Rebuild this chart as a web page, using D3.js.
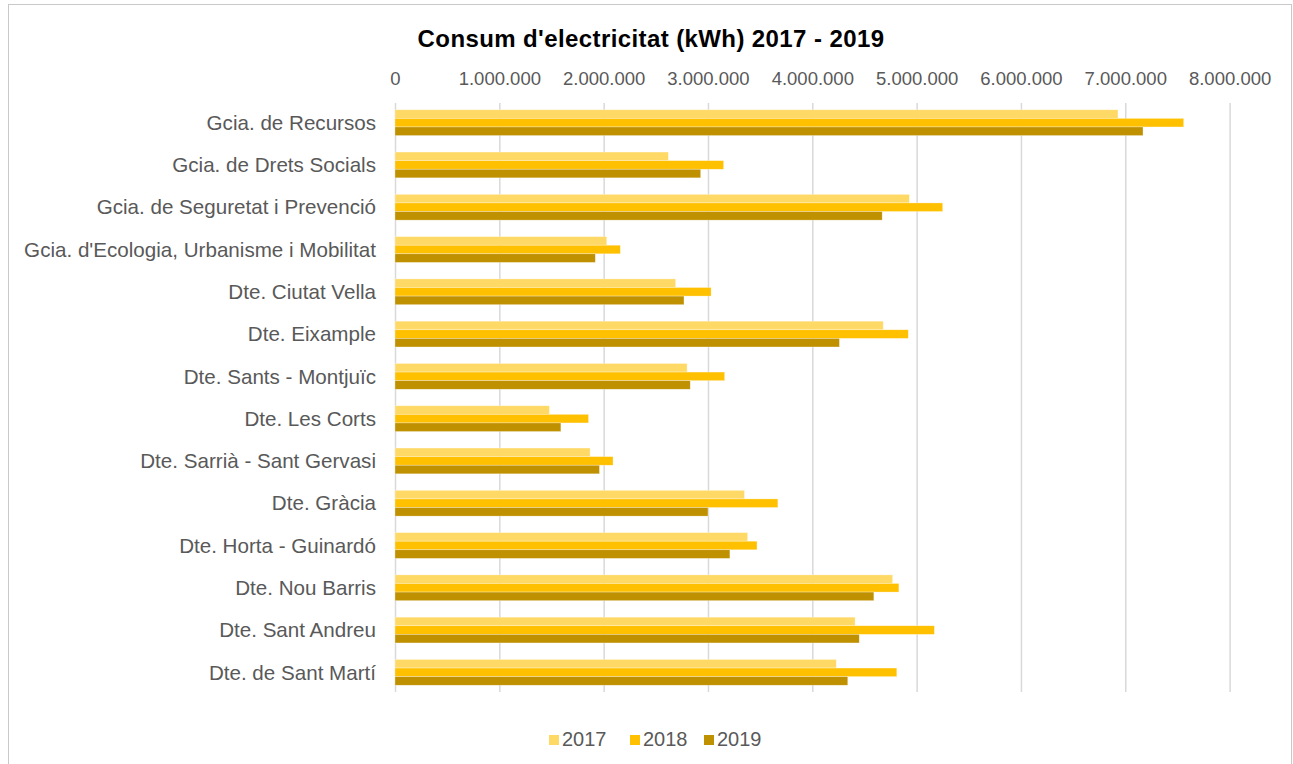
<!DOCTYPE html>
<html>
<head>
<meta charset="utf-8">
<script src="https://cdn.jsdelivr.net/npm/d3@7"></script>
<style>
  body { margin: 0; background: #ffffff; }
  svg { display: block; font-family: "Liberation Sans", Arial, sans-serif; }
</style>
</head>
<body>
<svg id="chart" width="1293" height="764"></svg>
<script>
const categories = [
  "Gcia. de Recursos",
  "Gcia. de Drets Socials",
  "Gcia. de Seguretat i Prevenció",
  "Gcia. d'Ecologia, Urbanisme i Mobilitat",
  "Dte. Ciutat Vella",
  "Dte. Eixample",
  "Dte. Sants - Montjuïc",
  "Dte. Les Corts",
  "Dte. Sarrià - Sant Gervasi",
  "Dte. Gràcia",
  "Dte. Horta - Guinardó",
  "Dte. Nou Barris",
  "Dte. Sant Andreu",
  "Dte. de Sant Martí",
];

const years = ["2017", "2018", "2019"];

const values2017 = [
  6930000, 2620000, 4930000, 2030000, 2690000, 4680000, 2800000,
  1480000, 1870000, 3350000, 3380000, 4770000, 4410000, 4230000,
];
const values2018 = [
  7560000, 3150000, 5250000, 2160000, 3030000, 4920000, 3160000,
  1855000, 2090000, 3670000, 3470000, 4830000, 5170000, 4810000,
];
const values2019 = [
  7170000, 2930000, 4670000, 1920000, 2770000, 4260000, 2830000,
  1590000, 1960000, 3000000, 3210000, 4590000, 4450000, 4340000,
];

const tickValues = [0, 1000000, 2000000, 3000000, 4000000, 5000000, 6000000, 7000000, 8000000];

const yearColors = ["#FFD966", "#FFC000", "#BF9000"];

const svg = d3.select("#chart");

//Frame around the chart
svg
  .append("rect")
  .attr("x", 8.5)
  .attr("y", 4.5)
  .attr("width", 1283)
  .attr("height", 800)
  .attr("fill", "none")
  .attr("stroke", "#c9c9c9")
  .attr("stroke-width", 1);

//Title
svg
  .append("text")
  .attr("x", 651)
  .attr("y", 47)
  .attr("text-anchor", "middle")
  .attr("font-size", 24)
  .attr("font-weight", "bold")
  .attr("letter-spacing", 0.4)
  .attr("fill", "#000")
  .text("Consum d'electricitat (kWh) 2017 - 2019");

//Plot area
const plot = { left: 395, right: 1229.6, top: 103, bottom: 692 };

const xScale = d3.scaleLinear().domain([0, 8000000]).range([plot.left, plot.right]);
const yScale = d3
  .scaleBand()
  .domain(categories)
  .range([plot.top, plot.bottom])
  .paddingInner(0.39)
  .paddingOuter(0.16);
const subScale = d3.scaleBand().domain(years).range([0, yScale.bandwidth()]);
const colorScale = d3.scaleOrdinal().domain(years).range(yearColors);

const locale = d3.formatLocale({ decimal: ",", thousands: ".", grouping: [3], currency: ["", "€"] });
const formatNumber = locale.format(",");

//Gridlines
const grid = svg
  .append("g")
  .attr("class", "grid")
  .attr("transform", `translate(0, ${plot.bottom})`)
  .call(
    d3.axisBottom(xScale)
      .tickValues(tickValues)
      .tickSize(-(plot.bottom - plot.top))
      .tickFormat("")
  );
grid.select(".domain").remove();
grid.selectAll(".tick line").attr("stroke", "#d9d9d9").attr("stroke-width", 1.5);

//Top axis labels
const xAxis = svg
  .append("g")
  .attr("class", "x-axis")
  .attr("transform", `translate(0, 85)`)
  .call(d3.axisTop(xScale).tickValues(tickValues).tickSize(0).tickPadding(0).tickFormat(formatNumber));
xAxis.select(".domain").remove();
xAxis
  .selectAll(".tick text")
  .attr("font-size", 18.5)
  .attr("font-family", "Liberation Sans, Arial, sans-serif")
  .attr("fill", "#595959")
  .attr("dy", 0);

//Category labels
const yAxis = svg
  .append("g")
  .attr("class", "y-axis")
  .attr("transform", `translate(${plot.left - 19}, 0)`)
  .call(d3.axisLeft(yScale).tickSize(0).tickPadding(0));
yAxis.select(".domain").remove();
yAxis
  .selectAll(".tick text")
  .attr("font-size", 20.6)
  .attr("font-family", "Liberation Sans, Arial, sans-serif")
  .attr("fill", "#595959")
  .attr("dy", "0.35em");

//Bars
const seriesByYear = { 2017: values2017, 2018: values2018, 2019: values2019 };
const rows = categories.map((category, i) => ({
  category,
  values: years.map((year) => ({ year, value: seriesByYear[year][i] })),
}));

svg
  .append("g")
  .attr("class", "bars")
  .selectAll("g")
  .data(rows)
  .enter()
  .append("g")
  .attr("transform", (d) => `translate(0, ${yScale(d.category)})`)
  .selectAll("rect")
  .data((d) => d.values)
  .enter()
  .append("rect")
  .attr("x", xScale(0))
  .attr("y", (d) => subScale(d.year))
  .attr("width", (d) => xScale(d.value) - xScale(0))
  .attr("height", subScale.bandwidth())
  .attr("fill", (d) => colorScale(d.year))
  .attr("stroke", "#ffffff")
  .attr("stroke-opacity", 0.5)
  .attr("stroke-width", 0.6);

//Legend
const legendX = [549, 630, 704];
const legend = svg
  .append("g")
  .attr("class", "legend")
  .selectAll("g")
  .data(years)
  .enter()
  .append("g")
  .attr("transform", (d, i) => `translate(${legendX[i]}, 735)`);
legend
  .append("rect")
  .attr("width", 10)
  .attr("height", 10)
  .attr("fill", (d) => colorScale(d));
legend
  .append("text")
  .attr("x", 13)
  .attr("y", 11)
  .attr("font-size", 20)
  .attr("fill", "#595959")
  .text((d) => d);
</script>
</body>
</html>
